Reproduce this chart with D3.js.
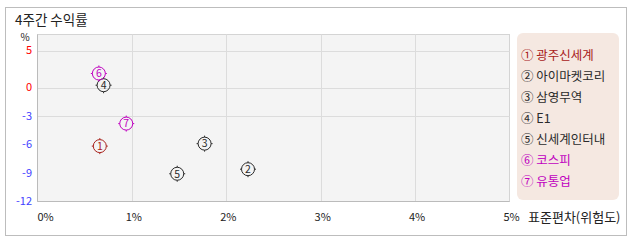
<!DOCTYPE html>
<html><head><meta charset="utf-8">
<script src="https://cdn.jsdelivr.net/npm/d3@7"></script>
<style>
html,body{margin:0;padding:0;background:#fff;}
text{font-family:"Noto Sans CJK KR","DejaVu Sans",sans-serif;}
</style></head>
<body><svg id="c" width="638" height="242"></svg>
<script>
const names = ["광주신세계","아이마켓코리","삼영무역","E1","신세계인터내","코스피","유통업"];
const marks = ["①","②","③","④","⑤","⑥","⑦"];
const risk = [0.66, 2.23, 1.77, 0.70, 1.48, 0.65, 0.94];      // 표준편차 (%)
const ret  = [-6.17, -8.60, -5.91, 0.31, -9.08, 1.89, -3.80];  // 4주간 수익률 (%)
const colorKeys = ["stock","other","other","other","other","index","index"];
const xTicks = [0,1,2,3,4,5];
const yTicks = [5,0,-3,-6,-9,-12];
const yGrid = [5,0,-3];

const palette = {stock:"#a8201a", other:"#2a2a2a", index:"#c000c0"};

const svg = d3.select("#c");
svg.append("rect").attr("x",5.5).attr("y",7.5).attr("width",621).attr("height",228)
  .attr("fill","#fff").attr("stroke","#bdbdbd");

svg.append("text").attr("x",15).attr("y",25).attr("font-size",13.5).attr("fill","#222").text("4주간 수익률");

const L=37.5, R=509.5, T=34.5, B=201.5;
const x = d3.scaleLinear().domain([0,5]).range([L,R]);
const y = d3.scaleLinear().domain([-12,0,5,7.15]).range([B,87.5,50.5,T]);

svg.append("rect").attr("x",L).attr("y",T).attr("width",R-L).attr("height",B-T)
  .attr("fill","#f4f4f4").attr("stroke","#d4d4d4");

svg.append("g").selectAll("line").data(xTicks.slice(1,-1)).join("line")
  .attr("x1",d=>Math.round(x(d))+0.5).attr("x2",d=>Math.round(x(d))+0.5)
  .attr("y1",T).attr("y2",B).attr("stroke","#dcdcdc");
svg.append("g").selectAll("line").data(yGrid).join("line")
  .attr("x1",L).attr("x2",R).attr("y1",d=>Math.round(y(d))+0.5).attr("y2",d=>Math.round(y(d))+0.5)
  .attr("stroke","#dcdcdc");
svg.append("line").attr("x1",L).attr("x2",L).attr("y1",T).attr("y2",B).attr("stroke","#bbbbbb");
svg.append("line").attr("x1",L).attr("x2",R).attr("y1",B).attr("y2",B).attr("stroke","#bbbbbb");

svg.append("g").selectAll("text").data(yTicks).join("text")
  .attr("x",32).attr("y",d=>y(d)).attr("dy","0.36em").attr("text-anchor","end")
  .attr("font-size",11).attr("fill",d=>d>=0?"#ff0000":"#3f3fff").text(d=>d);
svg.append("text").attr("x",25).attr("y",37).attr("dy","0.36em").attr("text-anchor","middle")
  .attr("font-size",10).attr("fill","#222").text("%");

svg.append("g").selectAll("text").data(xTicks).join("text")
  .attr("x",d=>d===0?L:x(d)+2).attr("y",217).attr("dy","0.36em")
  .attr("text-anchor",d=>d===0?"start":"middle")
  .attr("font-size",11).attr("fill","#222").text(d=>d+"%");
svg.append("text").attr("x",528).attr("y",217).attr("dy","0.36em")
  .attr("font-size",13).attr("fill","#222").text("표준편차(위험도)");

const pts = svg.append("g").selectAll("g").data(names.map((n,i)=>i)).join("g")
  .attr("transform",i=>`translate(${x(risk[i])},${y(ret[i])})`);
pts.append("circle").attr("r",6.5).attr("fill","none").attr("stroke",i=>palette[colorKeys[i]]).attr("stroke-width",1);
[[0,-6.5,0,-8],[0,6.5,0,8],[-6.5,0,-8,0],[6.5,0,8,0]].forEach(s=>{
  pts.append("line").attr("x1",s[0]).attr("y1",s[1]).attr("x2",s[2]).attr("y2",s[3])
    .attr("stroke",i=>palette[colorKeys[i]]).attr("stroke-width",1);
});
pts.append("text").attr("text-anchor","middle").attr("dy","0.36em").attr("font-size",10.5)
  .attr("fill",i=>palette[colorKeys[i]]).text(i=>i+1);

svg.append("rect").attr("x",517).attr("y",33).attr("width",102).attr("height",167).attr("rx",6)
  .attr("fill","#f5e8e1");
svg.append("g").selectAll("text").data(names.map((n,i)=>i)).join("text")
  .attr("x",521).attr("y",i=>55+i*21.1).attr("dy","0.36em").attr("font-size",12.5)
  .attr("fill",i=>palette[colorKeys[i]]).text(i=>marks[i]+" "+names[i]);
</script></body></html>
